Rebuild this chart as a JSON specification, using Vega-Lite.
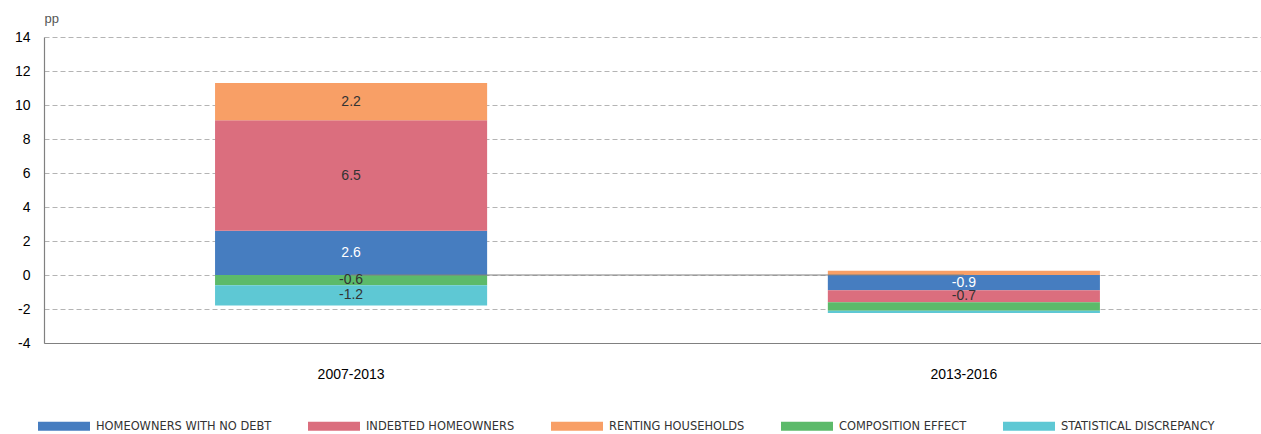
{
  "$schema": "https://vega.github.io/schema/vega-lite/v6.json",
  "autosize": "none",
  "padding": {"left": 44, "top": 37, "right": 0, "bottom": 91},
  "width": 1217,
  "height": 306,
  "config": {
    "view": {"stroke": null},
    "font": "Liberation Sans",
    "axis": {"labelFont": "Liberation Sans", "titleFont": "Liberation Sans"},
    "locale": {"number": {"decimal": ".", "thousands": ",", "grouping": [3], "currency": ["$", ""], "minus": "-"}}
  },
  "data": {
    "values": [
      {"period": "2007-2013", "series": "HOMEOWNERS WITH NO DEBT", "order": 1, "value": 2.6},
      {"period": "2007-2013", "series": "INDEBTED HOMEOWNERS", "order": 2, "value": 6.5},
      {"period": "2007-2013", "series": "RENTING HOUSEHOLDS", "order": 3, "value": 2.2},
      {"period": "2007-2013", "series": "COMPOSITION EFFECT", "order": 4, "value": -0.6},
      {"period": "2007-2013", "series": "STATISTICAL DISCREPANCY", "order": 5, "value": -1.2},
      {"period": "2013-2016", "series": "HOMEOWNERS WITH NO DEBT", "order": 1, "value": -0.9},
      {"period": "2013-2016", "series": "INDEBTED HOMEOWNERS", "order": 2, "value": -0.7},
      {"period": "2013-2016", "series": "RENTING HOUSEHOLDS", "order": 3, "value": 0.25},
      {"period": "2013-2016", "series": "COMPOSITION EFFECT", "order": 4, "value": -0.5},
      {"period": "2013-2016", "series": "STATISTICAL DISCREPANCY", "order": 5, "value": -0.13}
    ]
  },
  "layer": [
    {
      "transform": [
        {"stack": "value", "groupby": ["period"], "sort": [{"field": "order", "order": "ascending"}], "as": ["v0", "v1"]}
      ],
      "mark": {"type": "bar"},
      "encoding": {
        "x": {
          "field": "period", "type": "nominal", "sort": null,
          "scale": {"paddingInner": 0.556, "paddingOuter": 0.271, "align": 0.515},
          "axis": {
            "title": null, "labelAngle": 0, "labelFontSize": 14, "labelColor": "#000",
            "domainColor": "#808080", "domainWidth": 1.2,
            "ticks": false, "labelPadding": 24
          }
        },
        "y": {
          "field": "v0", "type": "quantitative",
          "scale": {"domain": [-4, 14], "nice": false, "zero": false},
          "axis": {
            "values": [-4, -2, 0, 2, 4, 6, 8, 10, 12, 14], "tickCount": 20, "labelOverlap": false,
            "labelFontSize": 14, "labelColor": "#000", "labelPadding": 14, "ticks": false,
            "domainColor": "#808080", "domainWidth": 1.2,
            "grid": true, "gridColor": "#b4b4b4", "gridDash": [5, 3], "gridWidth": 1,
            "title": "pp", "titleAngle": 0, "titleX": 0, "titleY": -19, "titleAlign": "left",
            "titleBaseline": "middle", "titleFontWeight": "normal", "titleFontSize": 13, "titleColor": "#555"
          }
        },
        "y2": {"field": "v1"},
        "color": {
          "field": "series", "type": "nominal",
          "scale": {
            "domain": ["HOMEOWNERS WITH NO DEBT", "INDEBTED HOMEOWNERS", "RENTING HOUSEHOLDS", "COMPOSITION EFFECT", "STATISTICAL DISCREPANCY"],
            "range": ["#467dc0", "#db6e7e", "#f89f66", "#5cba6a", "#5ec8d4"]
          },
          "legend": {
            "title": null, "orient": "none", "legendX": -6, "legendY": 363,
            "direction": "horizontal", "columns": 5, "columnPadding": 36,
            "symbolType": "M-1,-0.173H1V0.173H-1Z", "symbolSize": 2704, "symbolStrokeWidth": 0,
            "labelOffset": 6, "labelFontSize": 12.7, "labelLimit": 400,
            "labelFont": "DejaVu Sans Condensed", "labelColor": "#333"
          }
        }
      }
    },
    {
      "data": {"values": [{"a": "2007-2013", "b": "2013-2016"}]},
      "mark": {"type": "rule", "color": "#808080", "strokeWidth": 1},
      "encoding": {
        "x": {"field": "a", "type": "nominal"},
        "x2": {"field": "b"},
        "y": {"datum": 0, "type": "quantitative"}
      }
    },
    {
      "transform": [
        {"stack": "value", "groupby": ["period"], "sort": [{"field": "order", "order": "ascending"}], "as": ["v0", "v1"]},
        {"filter": "abs(datum.value) >= 0.6"},
        {"fold": ["v0", "v1"], "as": ["edge", "pos"]},
        {"aggregate": [{"op": "mean", "field": "pos", "as": "mid"}], "groupby": ["period", "series", "value"]}
      ],
      "mark": {"type": "text", "fontSize": 14, "baseline": "middle"},
      "encoding": {
        "x": {"field": "period", "type": "nominal"},
        "y": {"field": "mid", "type": "quantitative"},
        "text": {"field": "value", "type": "quantitative", "format": ".1f"},
        "color": {
          "condition": {"test": "datum.series === 'HOMEOWNERS WITH NO DEBT'", "value": "#ffffff"},
          "value": "#333333"
        }
      }
    }
  ]
}
